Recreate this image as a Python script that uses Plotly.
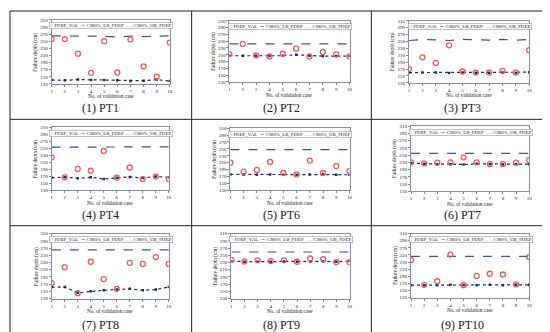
import plotly.graph_objects as go

# validation cases
cases = [1, 2, 3, 4, 5, 6, 7, 8, 9, 10]
y_ticks = [130, 150, 170, 190, 210, 230, 250, 270, 290, 310]

# failure depths (cm)
val_pt1 = [256, 256, 215, 161, 250, 162, 255, 179, 150, 246]
lb_pt1 = [141, 140, 142, 141, 141, 140, 138, 139, 142, 138]
ub_pt1 = [265, 265, 265, 265, 264, 262, 264, 263, 264, 265]

val_pt2 = [212, 242, 208, 205, 213, 228, 205, 218, 211, 205]
lb_pt2 = [207, 207, 207, 206, 207, 210, 207, 206, 206, 206]
ub_pt2 = [242, 242, 242, 242, 241, 242, 242, 242, 241, 242]

val_pt3 = [170, 204, 188, 239, 163, 160, 160, 165, 160, 225]
lb_pt3 = [160, 160, 160, 159, 160, 159, 159, 160, 159, 161]
ub_pt3 = [253, 256, 255, 253, 256, 254, 254, 256, 254, 256]

val_pt4 = [224, 167, 191, 186, 242, 166, 195, 162, 169, 162]
lb_pt4 = [166, 167, 164, 167, 162, 166, 168, 165, 169, 167]
ub_pt4 = [253, 253, 253, 253, 253, 253, 253, 253, 253, 254]

val_pt6 = [210, 184, 189, 212, 180, 176, 216, 180, 200, 186]
lb_pt6 = [176, 176, 175, 176, 175, 175, 176, 177, 175, 175]
ub_pt6 = [248, 248, 248, 248, 248, 247, 248, 248, 248, 248]

val_pt7 = [210, 207, 209, 210, 224, 210, 205, 205, 209, 216]
lb_pt7 = [208, 206, 205, 205, 204, 206, 205, 204, 205, 205]
ub_pt7 = [235, 235, 235, 235, 235, 235, 235, 235, 235, 235]

val_pt8 = [173, 217, 145, 232, 184, 157, 229, 226, 245, 226]
lb_pt8 = [162, 162, 146, 150, 153, 155, 157, 153, 155, 162]
ub_pt8 = [265, 265, 265, 265, 265, 264, 265, 264, 265, 265]

val_pt9 = [237, 233, 236, 234, 236, 232, 241, 239, 231, 231]
lb_pt9 = [233, 232, 232, 232, 233, 232, 233, 233, 232, 234]
ub_pt9 = [259, 259, 259, 259, 259, 259, 259, 259, 259, 259]

val_pt10 = [236, 166, 176, 251, 165, 191, 197, 195, 167, 244]
lb_pt10 = [165, 165, 165, 166, 165, 165, 166, 165, 166, 166]
ub_pt10 = [246, 246, 246, 246, 246, 246, 246, 246, 246, 246]

panel_titles = ["(1) PT1", "(2) PT2", "(3) PT3", "(4) PT4", "(5) PT6",
                "(6) PT7", "(7) PT8", "(8) PT9", "(9) PT10"]
vals = [val_pt1, val_pt2, val_pt3, val_pt4, val_pt6, val_pt7, val_pt8, val_pt9, val_pt10]
lbs = [lb_pt1, lb_pt2, lb_pt3, lb_pt4, lb_pt6, lb_pt7, lb_pt8, lb_pt9, lb_pt10]
ubs = [ub_pt1, ub_pt2, ub_pt3, ub_pt4, ub_pt6, ub_pt7, ub_pt8, ub_pt9, ub_pt10]

W, H = 550, 332
# plot areas in pixels: x0, x1, y0(top), y1(bottom)
boxes = [(43, 162, 10, 75), (222, 343, 11, 73), (403, 524, 11, 74),
         (43, 161, 119, 183), (223, 343, 120, 183), (405, 524, 118, 184),
         (43, 161, 227, 293), (224, 343, 227, 293), (405, 524, 227, 292)]
title_gap = [12, 13, 12, 13, 13, 13, 13, 13, 13]
label_y = [99, 208, 320]
col_x = [(1, 184), (184, 365), (365, 549)]

RED = "#f05a5a"
NAVY = "#1c2a6e"
BLUE = "#3d559c"
FRAME = "#8090b0"
SERIF = "Liberation Serif, Times New Roman, serif"

fig = go.Figure()
annotations = []
layout_axes = {}

sp = "&nbsp;" * 2
leg = ("<span style='color:%s'>○</span> FDEP_VAL%s"
       "<span style='color:%s'>-•-</span> CI80%%_LB_FDEP%s"
       "<span style='color:%s'>– –</span> CI80%%_UB_FDEP") % (RED, sp, NAVY, sp, BLUE)


def note(text, x, y, size, **kw):
    annotations.append(dict(text=text, xref="paper", yref="paper", x=x / W, y=1 - y / H,
                            xanchor="center", yanchor="middle", showarrow=False,
                            font=dict(size=size, family=SERIF, color="#222"), **kw))


for i in range(9):
    n = "" if i == 0 else str(i + 1)
    x0, x1, y0, y1 = boxes[i]
    xa, ya = "x" + n, "y" + n

    fig.add_trace(go.Scatter(x=cases, y=lbs[i], xaxis=xa, yaxis=ya, mode="lines+markers",
                             line=dict(color=NAVY, width=1.2, dash="dot"),
                             marker=dict(color=NAVY, size=2.5, symbol="square"),
                             name="CI80%_LB_FDEP", showlegend=False))
    fig.add_trace(go.Scatter(x=cases, y=ubs[i], xaxis=xa, yaxis=ya, mode="lines",
                             line=dict(color=BLUE, width=1.2, dash="dash"),
                             name="CI80%_UB_FDEP", showlegend=False))
    fig.add_trace(go.Scatter(x=cases, y=vals[i], xaxis=xa, yaxis=ya, mode="markers",
                             marker=dict(symbol="circle-open", size=5, color=RED,
                                         line=dict(width=1.3, color=RED)),
                             name="FDEP_VAL", showlegend=False))

    layout_axes["xaxis" + n] = dict(
        domain=[x0 / W, x1 / W], anchor=ya, range=[1, 10], tickvals=cases,
        ticks="outside", ticklen=2, tickcolor="#888", showgrid=False, zeroline=False,
        showline=True, linecolor=FRAME, linewidth=1, mirror=True,
        tickfont=dict(size=5, family=SERIF, color="#222"))
    layout_axes["yaxis" + n] = dict(
        domain=[1 - y1 / H, 1 - y0 / H], anchor=xa, range=[130, 310], tickvals=y_ticks,
        ticks="outside", ticklen=2, tickcolor="#888", showgrid=False, zeroline=False,
        showline=True, linecolor=FRAME, linewidth=1, mirror=True,
        tickfont=dict(size=5, family=SERIF, color="#222"))

    note("No. of validation case", (x0 + x1) / 2, y1 + title_gap[i], 5.2)
    note("Failure depth (cm)", x0 - 16, (y0 + y1) / 2, 5.2, textangle=-90)
    note(leg, (x0 + x1 + 1) / 2, y0 + 6, 4.9, bgcolor="white", bordercolor="#999",
         borderwidth=0.6, borderpad=0.6)
    cx0, cx1 = col_x[i % 3]
    note(panel_titles[i], (cx0 + cx1) / 2, label_y[i // 3], 12)

# table cell borders
shapes = []
for xv in [1, 184, 365, 549]:
    shapes.append(dict(type="line", xref="paper", yref="paper", x0=xv / W, x1=xv / W,
                       y0=1 - 1 / H, y1=1 - 329 / H, line=dict(color="#222", width=1)))
for yv in [1, 111, 219, 329]:
    shapes.append(dict(type="line", xref="paper", yref="paper", x0=1 / W, x1=549 / W,
                       y0=1 - yv / H, y1=1 - yv / H, line=dict(color="#222", width=1)))

fig.update_layout(width=W, height=H, margin=dict(l=0, r=0, t=0, b=0),
                  paper_bgcolor="white", plot_bgcolor="white",
                  annotations=annotations, shapes=shapes, showlegend=False,
                  **layout_axes)

fig.write_html("out.html")
